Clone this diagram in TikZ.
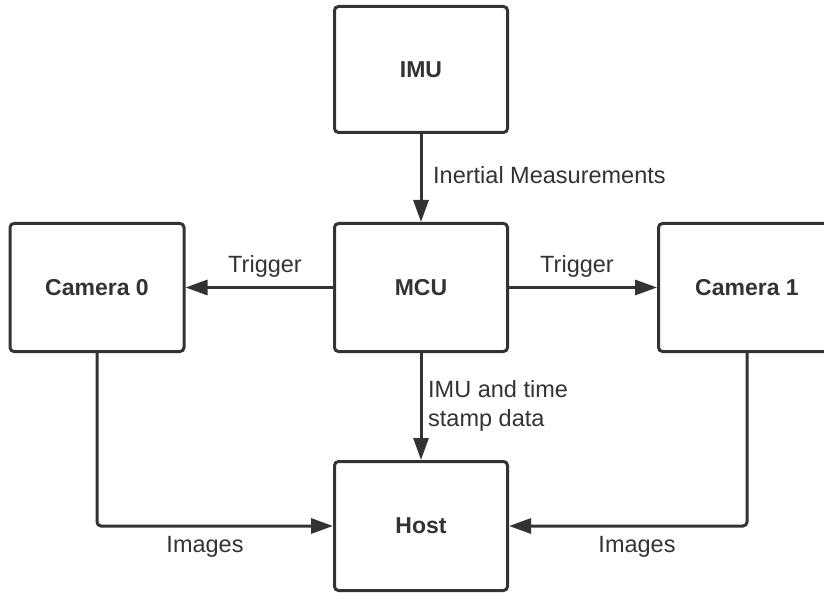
\documentclass[tikz,border=0pt]{standalone}
\usepackage{fontspec}
\setmainfont{Liberation Sans}
\usetikzlibrary{arrows.meta}
\definecolor{ink}{HTML}{333333}
\tikzset{
  box/.style={draw=ink, line width=3pt, rounded corners=4pt, fill=white,
    inner sep=0pt, text=ink, font=\fontsize{23}{27}\selectfont\bfseries},
  conn/.style={draw=ink, line width=3pt, rounded corners=4pt,
    -{Triangle[length=22pt,width=15pt]}},
  lbl/.style={inner sep=0pt, text=ink, font=\fontsize{23.5}{29}\selectfont}
}
\begin{document}
\begin{tikzpicture}[x=1pt,y=-1pt]
\useasboundingbox (0,0) rectangle (824,593);
\clip (0,0) rectangle (824,593);
\fill[white] (0,0) rectangle (824,593);
\node[box, minimum width=173pt, minimum height=126pt] (imu) at (421,69.5) {IMU};
\node[box, minimum width=173pt, minimum height=128pt] (mcu) at (421,287.5) {MCU};
\node[box, minimum width=174pt, minimum height=128pt] (cam0) at (97,287.5) {Camera 0};
\node[box, minimum width=177pt, minimum height=128pt] (cam1) at (747,287.5) {Camera 1};
\node[box, minimum width=173pt, minimum height=129pt] (host) at (421,526) {Host};

\draw[conn] (imu) -- (mcu);
\draw[conn] (mcu) -- (cam0);
\draw[conn] (mcu) -- (cam1);
\draw[conn] (mcu) -- (host);
\draw[conn] (cam0.south) |- (host.west);
\draw[conn] (cam1.south) |- (host.east);

\node[lbl, anchor=base west] (l1) at (433,184) {Inertial Measurements};
\node[lbl, anchor=base] (l2) at (265,273) {Trigger};
\node[lbl, anchor=base] (l3) at (577,273) {Trigger};
\node[lbl, anchor=north west, align=left] (l4) at (428,380) {IMU and time\\stamp data};
\node[lbl, anchor=base] (l5) at (205,552) {Images};
\node[lbl, anchor=base] (l6) at (637,552) {Images};
\end{tikzpicture}
\end{document}
